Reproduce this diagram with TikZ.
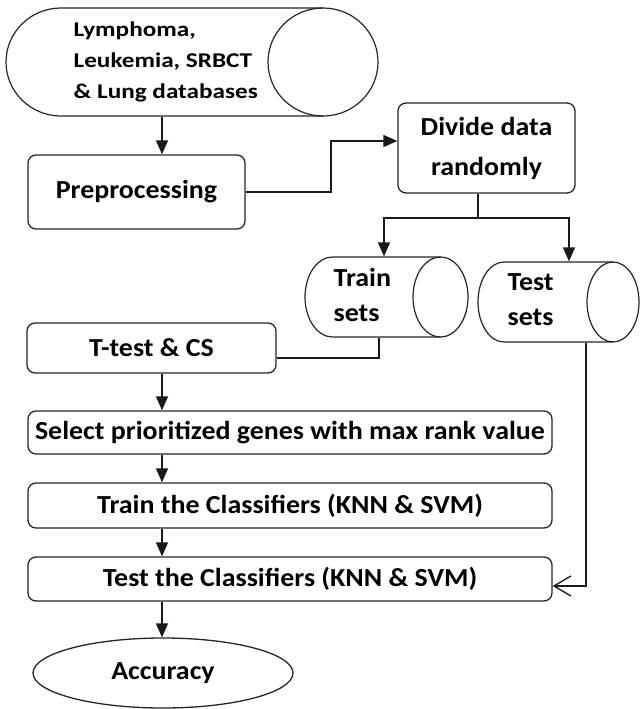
\documentclass[tikz,border=0pt]{standalone}
\usepackage{fontspec}
\setmainfont{Carlito}
\newfontfamily\mainf[FakeStretch=1.075]{Carlito}
\newfontfamily\dbf[FakeStretch=1.2]{Carlito}
\usetikzlibrary{arrows.meta,shapes.geometric}
\newcommand\hcyl[5]{%
  \pgfmathsetmacro\cyy{(#2+#4)/2}%
  \pgfmathsetmacro\cry{(#4-#2)/2}%
  \draw[cylb] (#3-#5,#2) -- (#1+#5,#2)
     arc[start angle=270, end angle=90, x radius=#5, y radius=\cry]
     -- (#3-#5,#4);
  \draw[cylb] (#3-#5,\cyy) ellipse[x radius=#5, y radius=\cry];
}
\begin{document}
\begin{tikzpicture}[x=1pt,y=-1pt,line width=1.3pt,
  box/.style={draw=black!85, rounded corners=8pt, inner sep=0pt, align=center,
    font=\mainf\bfseries\fontsize{26}{31}\selectfont},
  cylb/.style={draw=black!85, line width=1.2pt},
  txt/.style={inner sep=0pt, align=left, font=\mainf\bfseries\fontsize{26}{35}\selectfont},
  dbtxt/.style={inner sep=0pt, align=left, font=\dbf\bfseries\fontsize{21}{31}\selectfont},
  ghost/.style={inner sep=0pt, draw=none},
  arr/.style={-{Triangle[length=14pt,width=12pt]}},
  oarr/.style={-{Straight Barb[length=17pt,width=20pt]}},
  conn/.style={draw=black!90, line width=1.3pt}]
\useasboundingbox (0,0) rectangle (640,709);
\fill[white] (0,0) rectangle (640,709);

% database cylinder
\hcyl{6}{8}{378}{116}{55}
\node[ghost, minimum width=372pt, minimum height=108pt] (db) at (192,62) {};
\node[dbtxt, anchor=west] (dbt) at (73,62) {Lymphoma,\\Leukemia, SRBCT\\\& Lung databases};

% train / test cylinders
\hcyl{305}{257}{468}{337}{27.5}
\node[ghost, minimum width=163pt, minimum height=80pt] (train) at (386.5,297) {};
\node[txt, anchor=west] (traint) at (333,295) {Train\\sets};
\hcyl{478}{262}{639}{342}{26}
\node[ghost, minimum width=161pt, minimum height=80pt] (test) at (558.5,302) {};
\node[txt, anchor=west] (testt) at (507,300) {Test\\sets};

% boxes
\node[box, minimum width=217pt, minimum height=74pt] (pre) at (136.5,192) {Preprocessing};
\node[box, minimum width=177pt, minimum height=90pt,
  font=\mainf\bfseries\fontsize{26}{40}\selectfont] (div) at (486.5,148) {Divide data\\randomly};
\node[box, minimum width=249pt, minimum height=50pt] (tt) at (151.5,348) {T-test \& CS};
\node[box, minimum width=524pt, minimum height=43pt] (sel) at (290,432.5) {Select prioritized genes with max rank value};
\node[box, minimum width=524pt, minimum height=45pt] (trn) at (290,505.5) {Train the Classifiers (KNN \& SVM)};
\node[box, minimum width=524pt, minimum height=44pt] (tst) at (290,579) {Test the Classifiers (KNN \& SVM)};
\node[box, ellipse, minimum width=260pt, minimum height=70pt] (acc) at (163,673) {Accuracy};

% connectors
\coordinate (ax) at (162,0);
\draw[conn,arr] (db.south -| ax) -- (pre.north -| ax);
\coordinate (k1) at (331,141);
\draw[conn,arr] (pre.east) -| (k1) -- (div.west |- k1);
\coordinate (split) at (478,218);
\draw[conn] (div.south -| split) -- (split);
\coordinate (tl) at (384,0);
\coordinate (tr) at (569,0);
\draw[conn,arr] (split) -| (train.north -| tl);
\draw[conn,arr] (split) -| (test.north -| tr);
\coordinate (k2) at (379,358);
\draw[conn] (train.south -| k2) -- (k2) -- (tt.east |- k2);
\coordinate (k3) at (586,586);
\draw[conn,oarr] (test.south -| k3) -- (k3) -- (tst.east |- k3);
\draw[conn,arr] (tt.south -| ax) -- (sel.north -| ax);
\draw[conn,arr] (sel.south -| ax) -- (trn.north -| ax);
\draw[conn,arr] (trn.south -| ax) -- (tst.north -| ax);
\draw[conn,arr] (tst.south -| ax) -- (acc.north -| ax);
\end{tikzpicture}
\end{document}
